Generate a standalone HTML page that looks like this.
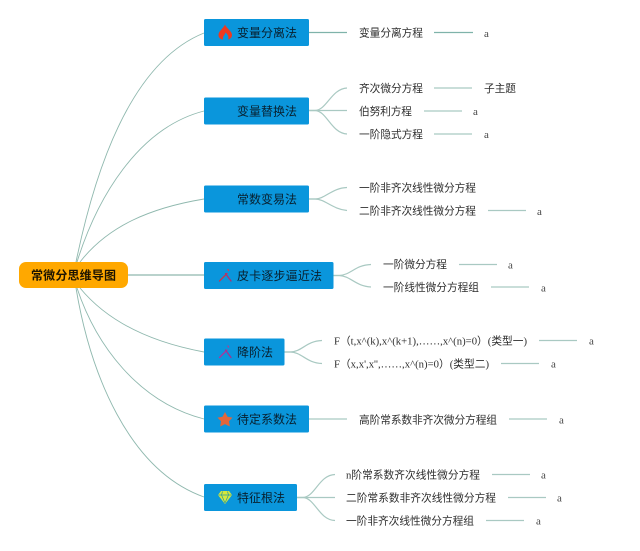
<!DOCTYPE html>
<html lang="zh">
<head>
<meta charset="utf-8">
<title>常微分思维导图</title>
<style>
html,body{margin:0;padding:0;background:#fff;width:640px;height:551px;overflow:hidden}
svg{display:block;filter:blur(.35px)}
text{font-family:"Liberation Serif","Noto Sans CJK SC",serif;fill:#2e2e2e;font-size:10.7px;dominant-baseline:central}
.sans{font-family:"Liberation Sans","Noto Sans CJK SC",sans-serif}
.t{font-family:"Liberation Sans","Noto Sans CJK SC",sans-serif;font-size:12px;fill:#08202f}
.r{font-family:"Liberation Sans","Noto Sans CJK SC",sans-serif;font-size:12px;font-weight:700;fill:#1d1400}
.a{font-size:11px;fill:#444}
.c{fill:none;stroke:#8fb8ae;stroke-width:.9}
.l{fill:none;stroke:#a9c9c2;stroke-width:1.2}
.box{fill:#0a96dc}
</style>
</head>
<body>
<svg width="640" height="551" viewBox="0 0 640 551" xmlns="http://www.w3.org/2000/svg">
<rect width="640" height="551" fill="#fff"/>

<!-- root connectors -->
<g class="c">
<path d="M76 262C96 165 132 62 204 33"/>
<path d="M77 262C97 198 138 128 204 111"/>
<path d="M80 262C108 226 150 208 204 199"/>
<path d="M128 275H204" stroke-width="1.2"/>
<path d="M80 288C108 322 150 342 204 352"/>
<path d="M77 288C96 345 138 402 204 419"/>
<path d="M76 288C90 372 128 470 204 497"/>
</g>

<!-- branch connectors -->
<g class="l">
<path d="M309 32.500H347" stroke="#7fb3aa"/>
<path d="M309 110.500H315C327 110 331 89 347 88"/>
<path d="M309 110.500H347"/>
<path d="M309 110.500H315C327 111 331 133 347 134"/>
<path d="M309 199H315C325 199 332 188 347 187.500"/>
<path d="M309 199H315C325 199 332 209 347 210.500"/>
<path d="M333 275.500H339C351 275 355 265 371 264.500"/>
<path d="M333 275.500H339C351 276 355 286 371 287"/>
<path d="M284.500 352H290C302 352 306 341 322 340.500"/>
<path d="M284.500 352H290C302 352 306 363 322 363.500"/>
<path d="M309 419H347"/>
<path d="M297 497.500H303C315 497 319 475 335 474.500"/>
<path d="M297 497.500H335"/>
<path d="M297 497.500H303C315 498 319 520 335 520.500"/>
<!-- leaf lines -->
<path d="M434 32.500H473" stroke="#7fb3aa"/>
<path d="M434 88H472"/>
<path d="M424 111H462"/>
<path d="M434 134H472"/>
<path d="M488 210.500H526"/>
<path d="M459 264.500H497"/>
<path d="M491 287H529"/>
<path d="M539 340.500H577"/>
<path d="M501 363.500H539"/>
<path d="M509 419H547"/>
<path d="M492 474.500H530"/>
<path d="M508 497.500H546"/>
<path d="M486 520.500H524"/>
</g>

<!-- root -->
<rect x="19" y="262" width="109" height="26" rx="7" fill="#ffa800"/>
<text class="r" x="31" y="275.500" textLength="85">常微分思维导图</text>

<!-- topics -->
<rect class="box" x="204" y="19" width="105" height="27" rx="1.500"/>
<rect class="box" x="204" y="97.500" width="105" height="27" rx="1.500"/>
<rect class="box" x="204" y="185.500" width="105" height="27" rx="1.500"/>
<rect class="box" x="204" y="262" width="129.500" height="27" rx="1.500"/>
<rect class="box" x="204" y="338.500" width="80.500" height="27" rx="1.500"/>
<rect class="box" x="204" y="405.500" width="105" height="27" rx="1.500"/>
<rect class="box" x="204" y="484" width="93" height="27" rx="1.500"/>

<text class="t" x="237" y="33" textLength="60">变量分离法</text>
<text class="t" x="237" y="111.500" textLength="60">变量替换法</text>
<text class="t" x="237" y="199.500" textLength="60">常数变易法</text>
<text class="t" x="237" y="276" textLength="85">皮卡逐步逼近法</text>
<text class="t" x="237" y="352.500" textLength="36">降阶法</text>
<text class="t" x="237" y="419.500" textLength="60">待定系数法</text>
<text class="t" x="237" y="498" textLength="48">特征根法</text>

<!-- icons -->
<path d="M225 24.500C226 28 232 31 232 35C232 38 229 39.500 228 39.500C229.500 37 227 33.500 225.500 32.500C225 35 222.500 36 223 39.500C221 39.500 218.500 38 218.500 35C218.500 31 223 29 225 24.500Z" fill="#f0391e"/>
<g stroke-linecap="round" fill="none">
<path d="M219.500 281L227 273.500" stroke="#c8354c" stroke-width="1.300"/>
<path d="M225.500 273.500L231 281" stroke="#b03070" stroke-width="1.300"/>
<path d="M228 269.500L228.500 270.500" stroke="#d0405a" stroke-width="1.300"/>
<path d="M219.500 357.500L227 350" stroke="#b0349a" stroke-width="1.300"/>
<path d="M225.500 350L231 357.500" stroke="#a03490" stroke-width="1.300"/>
<path d="M228 346L228.500 347" stroke="#b83a90" stroke-width="1.300"/>
</g>
<path d="M225 412L227.500 416.800L232.500 417.600L229 421.300L229.800 426.500L225 424.100L220.200 426.500L221 421.300L217.500 417.600L222.500 416.800Z" fill="#e2663a"/>
<path d="M221 491H229L232 495L225 504L218 495Z" fill="#d8e83c"/>
<path d="M218.500 495H231.500M222.500 491.500L221.500 495L225 503M227.500 491.500L228.500 495L225 503" fill="none" stroke="#2a9a9a" stroke-width=".7"/>

<!-- sub topics -->
<g>
<text class="sans" x="359" y="33.500" textLength="64">变量分离方程</text>
<text class="sans" x="359" y="89" textLength="64">齐次微分方程</text>
<text class="sans" x="359" y="112" textLength="53">伯努利方程</text>
<text class="sans" x="359" y="135" textLength="64">一阶隐式方程</text>
<text class="sans" x="359" y="188.500" textLength="117">一阶非齐次线性微分方程</text>
<text class="sans" x="359" y="211.500" textLength="117">二阶非齐次线性微分方程</text>
<text class="sans" x="383" y="265" textLength="64">一阶微分方程</text>
<text class="sans" x="383" y="288" textLength="96">一阶线性微分方程组</text>
<text x="334" y="341.500" textLength="193">F（t,x^(k),x^(k+1),……,x^(n)=0）(类型一)</text>
<text x="334" y="364.500" textLength="155">F（x,x',x'',……,x^(n)=0）(类型二)</text>
<text class="sans" x="359" y="420.500" textLength="138">高阶常系数非齐次微分方程组</text>
<text x="346" y="475.500" textLength="134">n阶常系数齐次线性微分方程</text>
<text class="sans" x="346" y="498.500" textLength="150">二阶常系数非齐次线性微分方程</text>
<text class="sans" x="346" y="521.500" textLength="128">一阶非齐次线性微分方程组</text>
<text class="sans" x="484" y="89" textLength="32">子主题</text>
</g>

<!-- leaves -->
<text class="a" x="484" y="34">a</text>
<text class="a" x="473" y="112">a</text>
<text class="a" x="484" y="135">a</text>
<text class="a" x="537" y="212">a</text>
<text class="a" x="508" y="265.500">a</text>
<text class="a" x="541" y="288.500">a</text>
<text class="a" x="589" y="341.500">a</text>
<text class="a" x="551" y="364.500">a</text>
<text class="a" x="559" y="420.500">a</text>
<text class="a" x="541" y="475.500">a</text>
<text class="a" x="557" y="498.500">a</text>
<text class="a" x="536" y="521.500">a</text>
</svg>
</body>
</html>
